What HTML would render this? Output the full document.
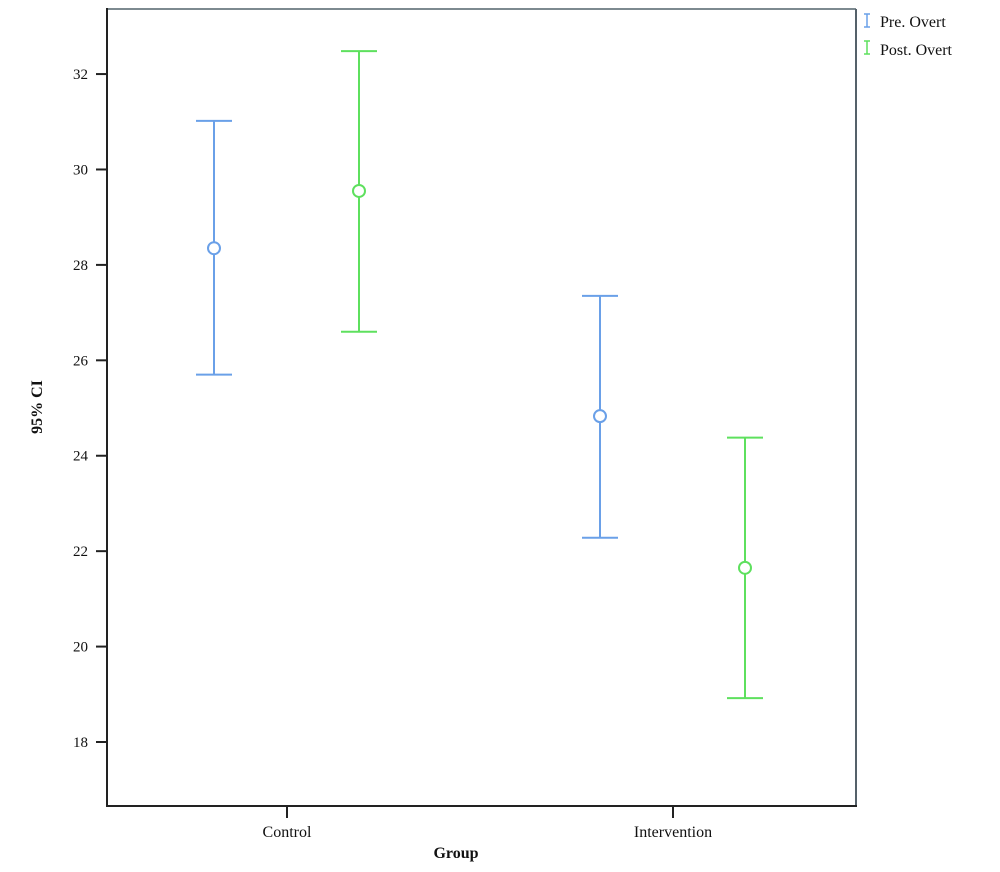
<!DOCTYPE html>
<html><head><meta charset="utf-8"><style>
body{margin:0;background:#fff;}
svg text{font-family:"Liberation Serif","DejaVu Serif",serif;fill:#111;}
</style></head><body>
<svg width="1000" height="867" xmlns="http://www.w3.org/2000/svg">
<rect x="107" y="9" width="749" height="797" fill="#fff" stroke="none"/>
<line x1="107" y1="9" x2="856" y2="9" stroke="#7d8a90" stroke-width="2"/>
<line x1="856" y1="9" x2="856" y2="806" stroke="#55616a" stroke-width="2"/>
<line x1="107" y1="8" x2="107" y2="806" stroke="#222" stroke-width="2"/>
<line x1="106" y1="806" x2="857" y2="806" stroke="#222" stroke-width="2"/>
<g id="yticks"></g><g id="xticks"></g><g id="bars"></g>
<text x="0" y="0" transform="translate(42,407) rotate(-90)" text-anchor="middle" font-size="16" font-weight="bold">95% CI</text>
<text x="456" y="858" text-anchor="middle" font-size="16" font-weight="bold">Group</text>
<g>
<g>
<path d="M864 14h6M867 14v13M864 27h6" stroke="#6aa0e8" stroke-width="1.5" fill="none"/>
<text x="880" y="27" font-size="16">Pre. Overt</text></g>
<g>
<path d="M864 41h6M867 41v13M864 54h6" stroke="#5ee05e" stroke-width="1.5" fill="none"/>
<text x="880" y="55" font-size="16">Post. Overt</text></g>
</g>
</svg>
<script>
const categories=["Control","Intervention"];
const seriesNames=["Pre. Overt","Post. Overt"];
const preMean=[28.35,24.83], preLow=[25.7,22.28], preHigh=[31.02,27.35];
const postMean=[29.55,21.65], postLow=[26.6,18.92], postHigh=[32.48,24.38];
const yTicks=[18,20,22,24,26,28,30,32];
const NS="http://www.w3.org/2000/svg";
const y=v=>742-(v-18)*47.71;
const x=i=>287+i*386;
const colors=["#6aa0e8","#5ee05e"];
function mk(tag,attrs,parent){const e=document.createElementNS(NS,tag);for(const k in attrs)e.setAttribute(k,attrs[k]);parent.appendChild(e);return e;}
const yt=document.getElementById('yticks');
yTicks.forEach(t=>{
 const l=mk('line',{x1:96,x2:107,y1:y(t),y2:y(t),stroke:'#222','stroke-width':2},yt);
 
 
 const tx=mk('text',{x:88,y:y(t)+5,'text-anchor':'end','font-size':15},yt);
 tx.textContent=t;
 
 
});
const xt=document.getElementById('xticks');
categories.forEach((c,i)=>{
 const l=mk('line',{x1:x(i),x2:x(i),y1:806,y2:818,stroke:'#222','stroke-width':2},xt);
 
 
 const tx=mk('text',{x:x(i),y:837,'text-anchor':'middle','font-size':16},xt);
 tx.textContent=c;
 
 
});
const bars=document.getElementById('bars');
const series=[[preMean,preLow,preHigh],[postMean,postLow,postHigh]];
series.forEach((s,si)=>{
 categories.forEach((c,i)=>{
  const cx=x(i)+(si===0?-73:72);
  const g=mk('g',{stroke:colors[si],'stroke-width':2,fill:'none'},bars);
  
  
  mk('line',{x1:cx,x2:cx,y1:y(s[2][i]),y2:y(s[1][i])},g);
  mk('line',{x1:cx-18,x2:cx+18,y1:y(s[2][i]),y2:y(s[2][i])},g);
  mk('line',{x1:cx-18,x2:cx+18,y1:y(s[1][i]),y2:y(s[1][i])},g);
  const m=mk('circle',{cx:cx,cy:y(s[0][i]),r:6,fill:'#fff'},g);
  
  
 });
});
</script>
</body></html>
